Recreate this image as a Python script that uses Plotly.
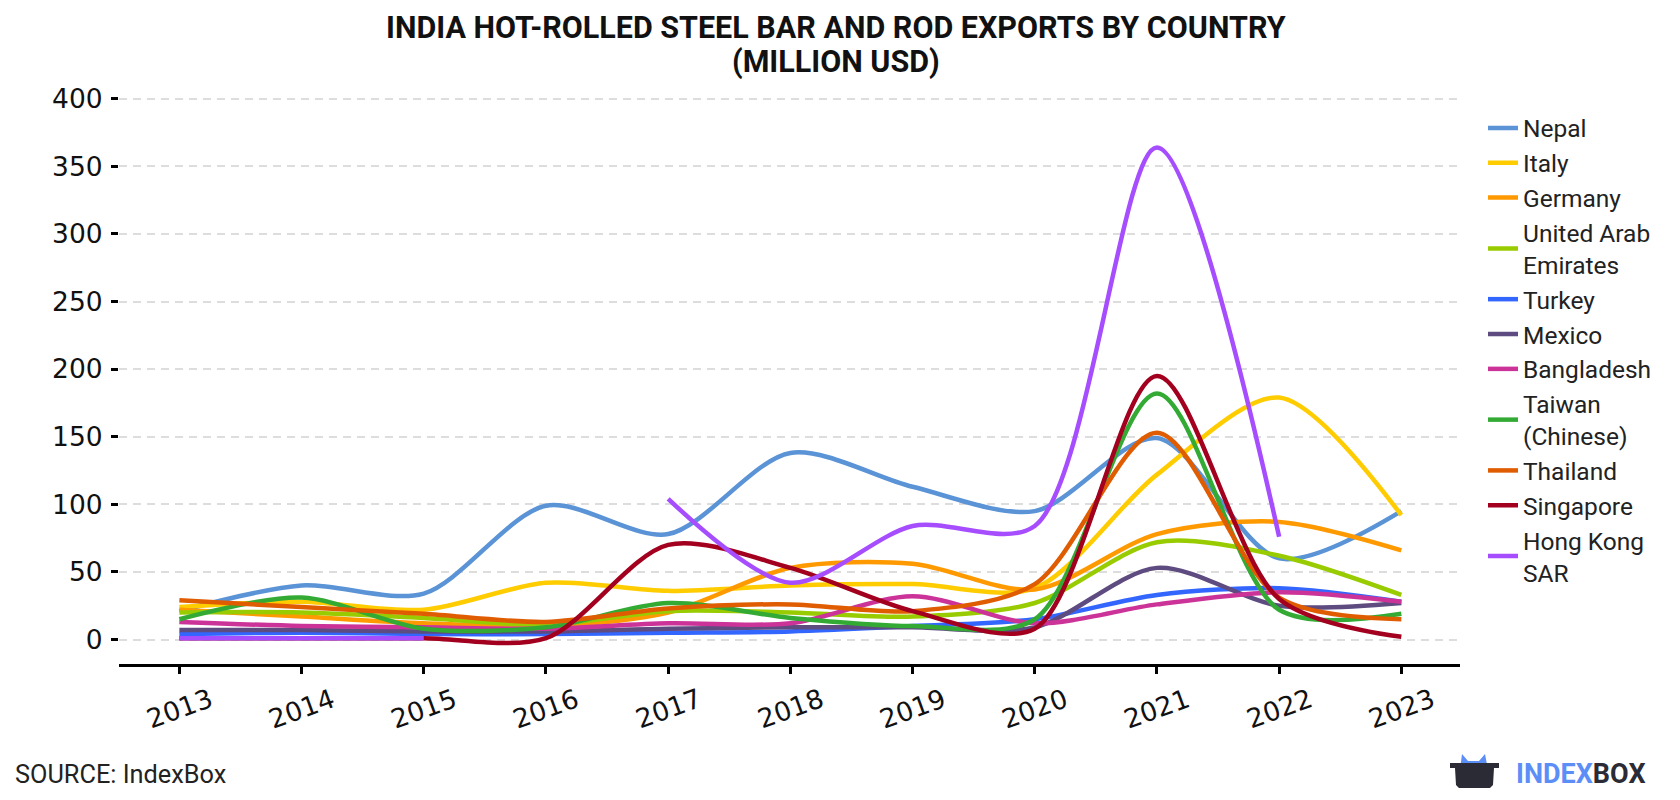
import plotly.graph_objects as go

# ---------------- data ----------------
years = [2013, 2014, 2015, 2016, 2017, 2018, 2019, 2020, 2021, 2022, 2023]
tick_labels = [str(y) for y in years]

countries = ["Nepal", "Italy", "Germany", "United Arab Emirates", "Turkey", "Mexico",
             "Bangladesh", "Taiwan (Chinese)", "Thailand", "Singapore", "Hong Kong SAR"]
legend_names = ["Nepal", "Italy", "Germany", "United Arab<br>Emirates", "Turkey", "Mexico",
                "Bangladesh", "Taiwan<br>(Chinese)", "Thailand", "Singapore", "Hong Kong<br>SAR"]

nepal = [21, 40, 34, 99, 78, 138, 113, 95, 149, 60, 95]
italy = [24, 28, 22, 42, 36, 40, 41, 38, 122, 179, 92]
germany = [22, 17, 12, 10, 20, 53, 56, 37, 78, 87, 66]
uae = [20, 20, 16, 11, 21, 20, 17, 27, 72, 62, 33]
turkey = [4, 5, 4, 4, 5, 6, 10, 15, 33, 38, 28]
mexico = [7, 7, 6, 6, 8, 9, 9, 9, 53, 25, 27]
bangladesh = [13, 10, 9, 8, 12, 12, 32, 12, 26, 35, 28]
taiwan = [15, 31, 8, 9, 27, 16, 10, 15, 182, 22, 19]
thailand = [29, 24, 19, 13, 23, 26, 21, 41, 153, 31, 15]
singapore = [1, 1, 1, 1, 70, 53, 21, 8, 195, 30, 2]
hong_kong = [1, 1, 1, None, 104, 42, 84, 84, 364, 76, None]

series = [nepal, italy, germany, uae, turkey, mexico, bangladesh, taiwan, thailand, singapore, hong_kong]
colors = ["#5a93d6", "#ffcc00", "#ff9900", "#99cc00", "#3366ff", "#5e4b80",
          "#cc3399", "#33aa33", "#e05c00", "#a3001f", "#a64dff"]

y_ticks = [0, 50, 100, 150, 200, 250, 300, 350, 400]

# ---------------- layout geometry (page pixel coordinates) ----------------
OFF = 8                      # default body margin of the html page
W, H = 1680 - 2 * OFF, 800 - 2 * OFF
PL, PR, PT, PB = 119, 1460, 91.5, 664      # plot area edges on the page
PW, PH = PR - PL, PB - PT


def px(x):
    return (x - PL) / PW


def py(y):
    return (PB - y) / PH


fig = go.Figure()
for name, lname, vals, col in zip(countries, legend_names, series, colors):
    fig.add_trace(go.Scatter(
        x=years, y=vals, name=lname, legendgroup=name, mode="lines",
        line=dict(color=col, width=4.5, shape="spline", smoothing=0.85),
        connectgaps=False, hoverinfo="skip"))

fig.update_layout(
    width=W, height=H,
    margin=dict(l=PL - OFF, r=(W + OFF) - PR, t=PT - OFF, b=(H + OFF) - PB, pad=0),
    paper_bgcolor="white", plot_bgcolor="white",
    showlegend=True,
    legend=dict(x=px(1483), xanchor="left", y=py(105), yanchor="top",
                font=dict(family="Roboto", size=24.5, color="#222222"),
                traceorder="grouped", tracegroupgap=0,
                bgcolor="rgba(0,0,0,0)"),
    xaxis=dict(range=[2012.506, 2023.48], showgrid=False, zeroline=False,
               showline=True, linecolor="black", linewidth=2.5,
               ticks="outside", ticklen=7, tickwidth=2.5, tickcolor="black",
               tickvals=years, showticklabels=False),
    yaxis=dict(range=[-18.1, 405], showgrid=True, gridcolor="#dddddd", gridwidth=2,
               griddash="8px,6px", zeroline=False, showline=False,
               ticks="outside", ticklen=7, tickwidth=3, tickcolor="black",
               tickvals=y_ticks, ticktext=[str(v) for v in y_ticks],
               ticklabelstandoff=3,
               tickfont=dict(family="DejaVu Sans", size=26.5, color="#111111")),
)

annotations = []
# x tick labels (rotated, centred under ticks)
for yr, lab in zip(years, tick_labels):
    annotations.append(dict(x=yr, xref="x", y=py(709), yref="paper", text=lab,
                            showarrow=False, textangle=-20, xanchor="center", yanchor="middle",
                            font=dict(family="DejaVu Sans", size=26.5, color="#111111")))
# title
annotations.append(dict(x=px(836), y=py(27), xref="paper", yref="paper", showarrow=False,
                        text="<b>INDIA HOT-ROLLED STEEL BAR AND ROD EXPORTS BY COUNTRY</b>",
                        xanchor="center", yanchor="middle",
                        font=dict(family="Roboto", size=30.5, color="#111111")))
annotations.append(dict(x=px(836), y=py(61), xref="paper", yref="paper", showarrow=False,
                        text="<b>(MILLION USD)</b>",
                        xanchor="center", yanchor="middle",
                        font=dict(family="Roboto", size=30.5, color="#111111")))
# source
annotations.append(dict(x=px(13), y=py(775), xref="paper", yref="paper", showarrow=False,
                        text="SOURCE: IndexBox", xanchor="left", yanchor="middle",
                        font=dict(family="Roboto", size=25.3, color="#222222")))
# logo text
annotations.append(dict(x=px(1514), y=py(774), xref="paper", yref="paper", showarrow=False,
                        text="<b><span style='color:#5b8ef7'>INDEX</span><span style='color:#2b2b36'>BOX</span></b>",
                        xanchor="left", yanchor="middle",
                        font=dict(family="Roboto", size=27, color="#2b2b36")))
fig.update_layout(annotations=annotations)


def path(points):
    return "M " + " L ".join(f"{px(a):.5f},{py(b):.5f}" for a, b in points) + " Z"


shapes = [
    dict(type="path", xref="paper", yref="paper", line=dict(width=0), fillcolor="#5b8ef7",
         path=path([(1460, 770), (1462, 754), (1468, 761), (1479, 761), (1485, 754), (1488, 770)])),
    dict(type="path", xref="paper", yref="paper", line=dict(width=0), fillcolor="#2b2b36",
         path=path([(1450, 763), (1499, 763), (1499, 768), (1494, 768), (1493, 785), (1490, 788),
                    (1459, 788), (1456, 785), (1455, 768), (1450, 768)])),
]
fig.update_layout(shapes=shapes)

fig.write_html("out.html")
